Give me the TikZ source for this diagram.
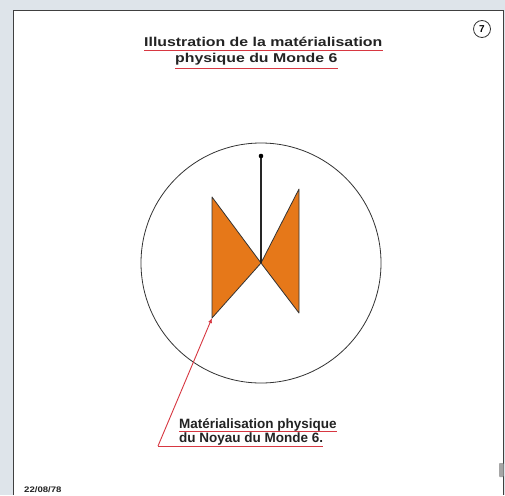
\documentclass[tikz,border=0pt]{standalone}
\usepackage{fontspec}
\usetikzlibrary{calc,arrows.meta}
\setmainfont{Liberation Sans}
\newfontfamily\wideA[FakeStretch=1.24]{Liberation Sans}
\newfontfamily\wideC[FakeStretch=1.2]{Liberation Sans}
\definecolor{bgc}{RGB}{222,228,234}
\definecolor{ulred}{RGB}{215,55,65}
\definecolor{bowtie}{RGB}{230,120,25}
\definecolor{txt}{RGB}{35,35,35}
\tikzset{
  ul/.style={ulred, line width=1.1pt},
  lbl/.style={font=\bfseries\fontsize{13.5}{15}\selectfont, text=txt, inner sep=0pt, anchor=base west},
  ttl/.style={font=\wideA\bfseries\fontsize{12.8}{15}\selectfont, text=txt, inner sep=0pt, anchor=base west},
  tri/.style={fill=bowtie, draw=black!80, line width=0.8pt, line join=round}
}
\begin{document}
\begin{tikzpicture}[x=1pt,y=-1pt]
\useasboundingbox (0,0) rectangle (505,495);
\fill[bgc] (0,0) rectangle (505,495);
\fill[white] (13,10) rectangle (503,495);
\draw[black!75, line width=0.8pt] (13,495) -- (13,10) -- (503,10) -- (503,495);
% circled number
\node[draw=black!80, line width=0.8pt, circle, minimum size=17pt, inner sep=0pt, font=\bfseries\fontsize{10}{12}\selectfont] (num) at (482,29) {7};
% title
\node[ttl] (t1) at (144,47) {Illustration de la matérialisation};
\node[ttl] (t2) at (175,63) {physique du Monde 6};
\draw[ul] ($(t1.base west)+(0,3.6)$) -- ($(t1.base east)+(0,3.6)$);
\draw[ul] ($(t2.base west)+(0,5.8)$) -- ($(t2.base east)+(0,5.8)$);
% big circle
\node[draw=black!80, line width=0.8pt, circle, minimum size=240pt, inner sep=0pt] (world) at (261,263) {};
% bow tie
\coordinate (c) at (261,263);
\coordinate (ltop) at (212,197);
\coordinate (lbot) at (212,318);
\coordinate (rtop) at (299,189);
\coordinate (rbot) at (299,313);
\draw[tri] (ltop) -- (c) -- (lbot) -- cycle;
\draw[tri] (rtop) -- (rbot) -- (c) -- cycle;
\coordinate (dot) at (261,156);
\draw[black!85, line width=1.2pt] (c) -- (dot);
\fill[black] (dot) circle (2.3pt);
% label
\node[lbl] (l1) at (179,428.5) {Matérialisation physique};
\node[lbl] (l2) at (179,442) {du Noyau du Monde 6.};
\draw[ul, line width=0.9pt] ($(l1.base west)+(0,3)$) -- ($(l1.base east)+(0,3)$);
\coordinate (corner) at (158,446);
\draw[ul, line width=0.9pt] (corner) -- ($(l2.base east)+(0,4)$);
\draw[ulred, line width=0.9pt, -{Latex[length=5pt,width=4pt]}] (corner) -- (lbot);
% date
\node[font=\wideC\bfseries\fontsize{8}{9}\selectfont, text=txt, inner sep=0pt, anchor=base west] (date) at (24,492) {22/08/78};
% small gray mark
\fill[black!35, rounded corners=0.8pt] (499,463) rectangle (503.5,477);
\end{tikzpicture}
\end{document}
